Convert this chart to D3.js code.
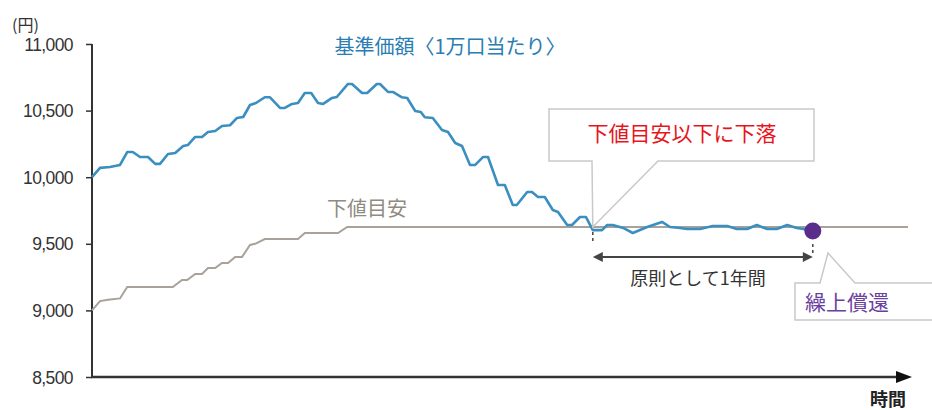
<!DOCTYPE html>
<html><head><meta charset="utf-8">
<script src="https://cdn.jsdelivr.net/npm/d3@7/dist/d3.min.js"></script>
<style>
html,body{margin:0;padding:0;background:#fff;}
svg{display:block;}
.jp{font-family:"Noto Sans CJK JP","Noto Sans",sans-serif;}
</style></head>
<body>
<svg id="c" width="932" height="410"></svg>
<script>
// ---- data ----
const yTicks = [8500, 9000, 9500, 10000, 10500, 11000];
const fundT = [0,1,2.25,3.5,4.4,5.1,6,7,7.9,8.5,9.5,10.4,11.4,12,12.9,13.75,14.5,15.4,16.25,17.25,18.1,18.9,19.75,20.5,21.6,22.25,23.5,24.1,25,25.75,26.6,27.4,28.25,28.9,30,30.6,32,32.5,33.75,34.4,35.6,36,37,37.6,38.75,39.4,40.4,41.1,41.6,42.6,43.75,44.5,45.4,46.25,47.25,47.9,48.9,49.5,50.75,51.6,52.6,53.1,54.4,55,55.75,56.6,57.6,58.25,59.4,60,61,61.75,62.6,63.75,64.4,65.1,66.4,67.6,69.4,71.25,72.25,73.5,74.4,76,77.6,79.4,80.6,81.9,83.1,84.4,85.6,86.9,88.1,88.9,90.1];
const fundNav = [10000,10070,10077,10092,10189,10189,10152,10152,10100,10100,10174,10182,10234,10242,10302,10302,10339,10347,10384,10390,10444,10452,10542,10557,10600,10600,10520,10520,10550,10557,10632,10632,10557,10550,10595,10602,10700,10700,10632,10632,10700,10700,10640,10640,10600,10595,10497,10490,10450,10444,10354,10339,10257,10234,10092,10092,10152,10152,9941,9941,9791,9791,9889,9889,9851,9851,9754,9739,9641,9641,9701,9701,9603,9603,9641,9641,9619,9581,9626,9664,9626,9619,9611,9611,9634,9634,9611,9611,9641,9611,9611,9641,9619,9611,9596];
const floorT = [0,1,2,3.5,4.4,10.1,11.25,11.9,12.9,13.75,14.5,15.4,16.25,17,17.9,18.75,19.75,20.4,21.6,25.75,26.6,30.75,31.9,102];
const floorVal = [9000,9070,9080,9090,9176,9176,9228,9228,9273,9273,9318,9318,9356,9356,9401,9401,9491,9500,9536,9536,9581,9581,9626,9626];
const breachT = 62.6;     // 下値目安以下に下落
const redeemT = 90.1;     // 繰上償還
const redeemVal = 9596;
const floorLevel = 9626;

const svg = d3.select("#c");
const x = d3.scaleLinear().domain([0, 102]).range([92, 908]);
const y = d3.scaleLinear().domain([8500, 11000]).range([377, 44]);

// y axis
const yAxis = d3.axisLeft(y).tickValues(yTicks).tickFormat(d3.format(",")).tickSize(6).tickSizeOuter(0);
const ga = svg.append("g").attr("transform", "translate(92,0)").call(yAxis);
ga.select(".domain").attr("stroke", "#333").attr("stroke-width", 2).attr("d", `M0,${y(11000)}V${y(8500)}`);
ga.selectAll(".tick line").attr("stroke", "#333").attr("stroke-width", 1.5);
ga.selectAll(".tick text").attr("x", -19).attr("font-family", "Arial, 'Liberation Sans', sans-serif")
  .attr("font-size", 17.5).attr("fill", "#333").attr("letter-spacing", "-0.6px").attr("dy", "0.35em");

// x axis with arrow
svg.append("line").attr("x1", 91).attr("x2", 898).attr("y1", y(8500)).attr("y2", y(8500))
  .attr("stroke", "#333").attr("stroke-width", 2.5);
svg.append("path").attr("d", `M896,${y(8500)-6}L912,${y(8500)}L896,${y(8500)+6}Z`).attr("fill", "#111");

// unit & x label
svg.append("text").attr("class", "jp").attr("x", 12).attr("y", 31).attr("font-size", 16).attr("fill", "#333").text("(円)");
svg.append("text").attr("class", "jp").attr("x", 870).attr("y", 406).attr("font-size", 18).attr("font-weight", "bold").attr("fill", "#222").text("時間");

// floor line
const line = d3.line().x(d => x(d[0])).y(d => y(d[1]));
svg.append("path").datum(floorT.map((t, i) => [t, floorVal[i]])).attr("d", line)
  .attr("fill", "none").attr("stroke", "#a8a29a").attr("stroke-width", 2);

// fund line
svg.append("path").datum(fundT.map((t, i) => [t, fundNav[i]])).attr("d", line)
  .attr("fill", "none").attr("stroke", "#3b8fc0").attr("stroke-width", 2.6).attr("stroke-linejoin", "round");

// labels
svg.append("text").attr("class", "jp").attr("x", 450).attr("y", 54).attr("text-anchor", "middle")
  .attr("font-size", 20).attr("fill", "#2a7db3").text("基準価額〈1万口当たり〉");
svg.append("text").attr("class", "jp").attr("x", 327).attr("y", 216)
  .attr("font-size", 20).attr("fill", "#8f8a82").text("下値目安");

// callout 1
const tip1x = x(breachT), tip1y = y(floorLevel);
svg.append("path").attr("d", `M549,109H814V161H658L${tip1x},${tip1y}L592,161H549Z`)
  .attr("fill", "#fff").attr("stroke", "#c9c9c9").attr("stroke-width", 1.5);
svg.append("text").attr("class", "jp").attr("x", 682).attr("y", 141).attr("text-anchor", "middle")
  .attr("font-size", 21).attr("fill", "#e8141c").text("下値目安以下に下落");

// redemption dot
svg.append("circle").attr("cx", x(redeemT)).attr("cy", y(redeemVal)).attr("r", 8.5).attr("fill", "#5a2d8c");

// one-year bracket
const bx1 = x(breachT), bx2 = x(redeemT);
svg.append("line").attr("x1", bx1).attr("x2", bx1).attr("y1", 232).attr("y2", 243)
  .attr("stroke", "#444").attr("stroke-width", 1.5).attr("stroke-dasharray", "3,3");
svg.append("line").attr("x1", bx2).attr("x2", bx2).attr("y1", 244).attr("y2", 254)
  .attr("stroke", "#444").attr("stroke-width", 1.5).attr("stroke-dasharray", "3,3");
svg.append("line").attr("x1", bx1 + 6).attr("x2", bx2 - 6).attr("y1", 257).attr("y2", 257)
  .attr("stroke", "#444").attr("stroke-width", 2);
svg.append("path").attr("d", `M${bx1},257L${bx1+10},252L${bx1+10},262Z`).attr("fill", "#444");
svg.append("path").attr("d", `M${bx2},257L${bx2-10},252L${bx2-10},262Z`).attr("fill", "#444");
svg.append("text").attr("class", "jp").attr("x", 698).attr("y", 285).attr("text-anchor", "middle")
  .attr("font-size", 18).attr("fill", "#333").text("原則として1年間");

// callout 2
svg.append("path").attr("d", `M795,283H820L828,253L855,283H945V320H795Z`)
  .attr("fill", "#fff").attr("stroke", "#c9c9c9").attr("stroke-width", 1.5);
svg.append("text").attr("class", "jp").attr("x", 805).attr("y", 310)
  .attr("font-size", 21).attr("fill", "#6b3fa0").text("繰上償還");
</script>
</body></html>
